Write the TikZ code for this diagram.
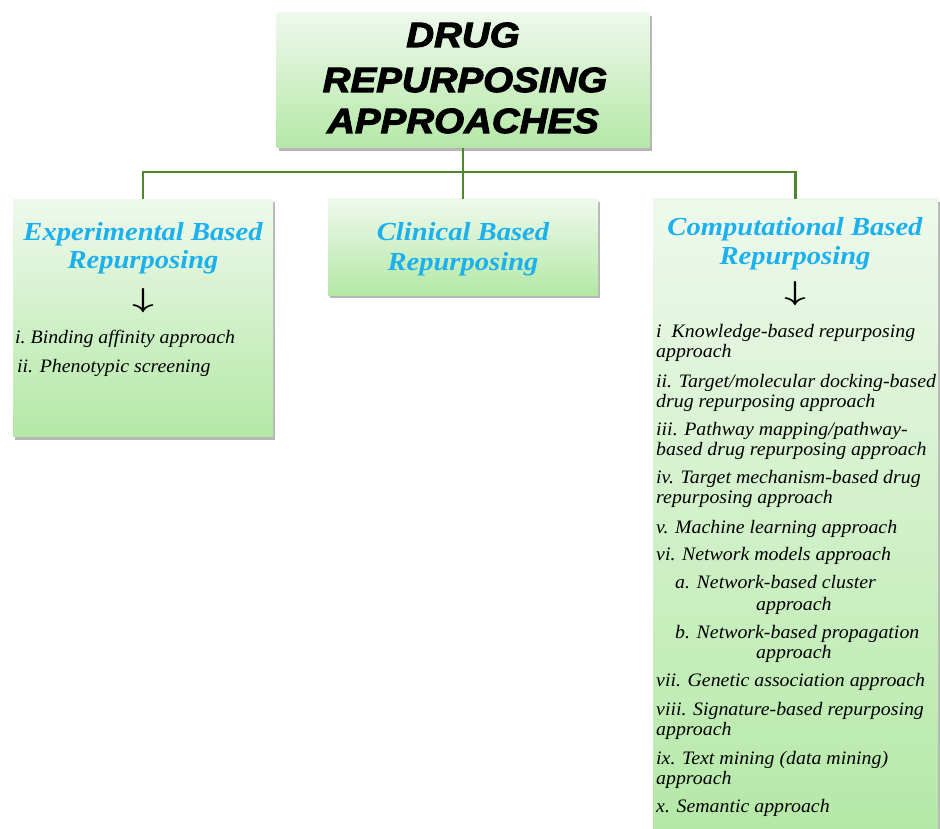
\documentclass[tikz,border=0pt]{standalone}
\usepackage{fontspec}
\usepackage{graphicx}
\setmainfont{Liberation Serif}
\newfontfamily\titlefont[FakeStretch=1.1,FakeBold=3]{Liberation Sans}
\newfontfamily\headfont[FakeStretch=1.1]{Liberation Serif}
\newfontfamily\bodyfont[FakeStretch=1.045]{Liberation Serif}
\usetikzlibrary{shadows}
\definecolor{linegreen}{RGB}{78,135,48}
\definecolor{boxtop}{RGB}{238,249,236}
\definecolor{boxbot}{RGB}{180,232,166}
\definecolor{headcyan}{RGB}{28,176,238}
\begin{document}
\begin{tikzpicture}[x=1pt,y=-1pt,
  box/.style={draw=none, rectangle, inner sep=0pt, top color=boxtop, bottom color=boxbot,
    drop shadow={shadow xshift=2pt, shadow yshift=-3pt, opacity=.4, fill=black!70}},
  conn/.style={draw=linegreen, line width=2.4pt},
  ttl/.style={inner sep=0pt, anchor=base, font=\titlefont\bfseries\itshape\fontsize{35}{38}\selectfont},
  hd/.style={inner sep=0pt, anchor=base, text=headcyan, font=\headfont\bfseries\itshape\fontsize{26}{28}\selectfont},
  itm/.style={inner sep=0pt, anchor=base west, font=\bodyfont\itshape\fontsize{19}{21}\selectfont},
  dar/.style={inner sep=0pt, anchor=center, font=\fontsize{28}{30}\selectfont}]
\useasboundingbox (0,0) rectangle (940,829);
\fill[white] (0,0) rectangle (940,829);

% boxes
\node[box, minimum width=373pt, minimum height=135pt] (top) at (463,80.5) {};
\node[box, minimum width=260pt, minimum height=237pt] (left) at (143,318) {};
\node[box, minimum width=270pt, minimum height=96pt] (mid) at (463,247) {};
\node[box, minimum width=285pt, minimum height=640pt] (right) at (795.5,519) {};

% connectors
\coordinate (hub) at (463,172);
\draw[conn] (top.south) -- (hub);
\draw[conn] (hub) -- (mid.north);
\draw[conn] (left.north) |- (hub);
\draw[conn] (right.north) |- (hub);

% title
\node[ttl] (t1) at (463,47) {DRUG};
\node[ttl] (t2) at (465,92) {REPURPOSING};
\node[ttl] (t3) at (463,133) {APPROACHES};

% headings
\node[hd] (lh1) at (143,241) {Experimental Based};
\node[hd] (lh2) at (143,269) {Repurposing};
\node[hd] (mh1) at (463,241) {Clinical Based};
\node[hd] (mh2) at (463,270) {Repurposing};
\node[hd] (rh1) at (795,236) {Computational Based};
\node[hd] (rh2) at (795,265) {Repurposing};

% arrows
\node[dar] (la) at (143,301) {\scalebox{1.5}[1.1]{\boldmath$\downarrow$}};
\node[dar] (ra) at (795,294) {\scalebox{1.5}[1.1]{\boldmath$\downarrow$}};

% left items
\node[itm] (l1) at (15,343) {i.\ Binding affinity approach};
\node[itm] (l2) at (17,372) {ii. Phenotypic screening};

% right items
\node[itm] (r1) at (656,337) {i\ \ Knowledge-based repurposing};
\node[itm] (r1b) at (656,357) {approach};
\node[itm] (r2) at (656,387) {ii. Target/molecular docking-based};
\node[itm] (r2b) at (656,407) {drug repurposing approach};
\node[itm] (r3) at (656,435) {iii. Pathway mapping/pathway-};
\node[itm] (r3b) at (656,455) {based drug repurposing approach};
\node[itm] (r4) at (656,483) {iv. Target mechanism-based drug};
\node[itm] (r4b) at (656,503) {repurposing approach};
\node[itm] (r5) at (656,533) {v. Machine learning approach};
\node[itm] (r6) at (656,560) {vi. Network models approach};
\node[itm] (r6a) at (675,588) {a. Network-based cluster};
\node[itm] (r6ab) at (756,610) {approach};
\node[itm] (r6b) at (675,638) {b. Network-based propagation};
\node[itm] (r6bb) at (756,658) {approach};
\node[itm] (r7) at (656,686) {vii. Genetic association approach};
\node[itm] (r8) at (656,715) {viii. Signature-based repurposing};
\node[itm] (r8b) at (656,735) {approach};
\node[itm] (r9) at (656,764) {ix. Text mining (data mining)};
\node[itm] (r9b) at (656,784) {approach};
\node[itm] (r10) at (656,812) {x. Semantic approach};
\end{tikzpicture}
\end{document}
